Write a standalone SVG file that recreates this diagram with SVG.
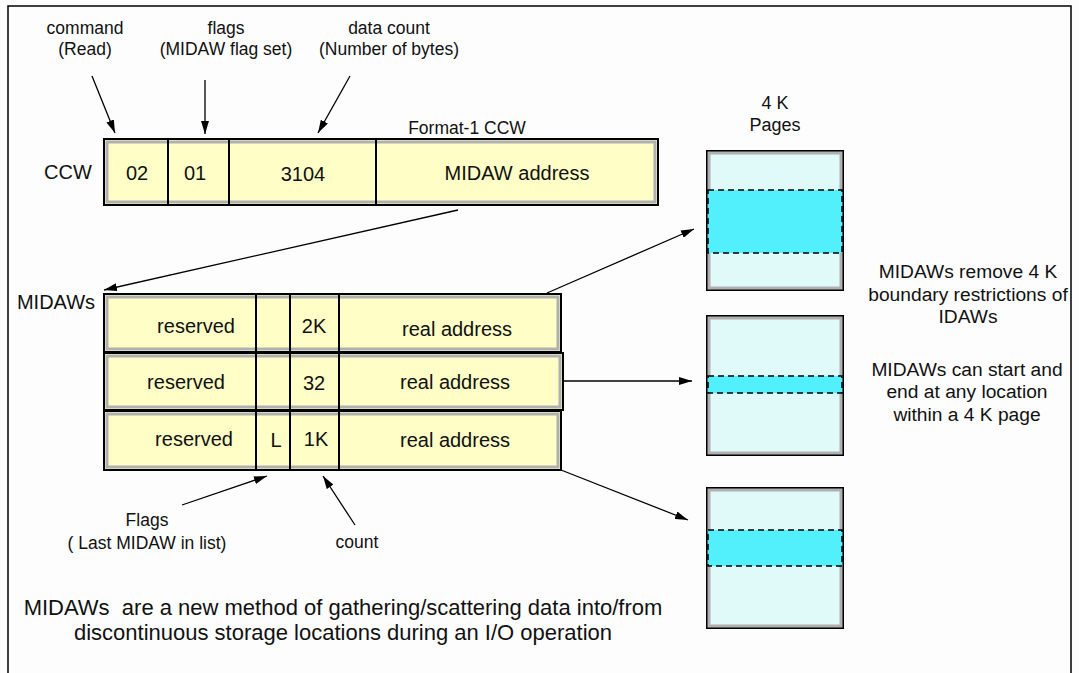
<svg xmlns="http://www.w3.org/2000/svg" width="1079" height="673" viewBox="0 0 1079 673">
<defs>
<marker id="ah" viewBox="0 0 13 8" refX="13" refY="4" markerWidth="13" markerHeight="8" orient="auto" markerUnits="userSpaceOnUse">
<path d="M0,0 L13,4 L0,8 Z" fill="#000"/>
</marker>
</defs>
<style>
text{font-family:"Liberation Sans",Arial,sans-serif;fill:#111;text-anchor:middle}
.lbl{font-size:17.5px}
.big{font-size:20px}
.fld{font-size:20px}
.note{font-size:19.2px}
.pg{font-size:18px}
.foot{font-size:22px;white-space:pre}
.outer{fill:#fefec6;stroke:#000;stroke-width:2}
.inner{fill:none;stroke:#b0b0b0;stroke-width:3}
.div{stroke:#000;stroke-width:2}
.page{fill:#e0fafa;stroke:#000;stroke-width:2}
.band{fill:#52f0fc;stroke:#000;stroke-width:1.5;stroke-dasharray:6,4}
.conn{stroke:#000;stroke-width:1.3;fill:none;marker-end:url(#ah)}
</style>
<rect width="1079" height="673" fill="#fdfdfd"/>
<path d="M8,673 V6 H1071 V673" fill="none" stroke="#000" stroke-width="1.5"/>

<g id="labels-top">
<text class="lbl" x="85" y="34">command</text>
<text class="lbl" x="85" y="55">(Read)</text>
<text class="lbl" x="226" y="34">flags</text>
<text class="lbl" x="226" y="55">(MIDAW flag set)</text>
<text class="lbl" x="389" y="34">data count</text>
<text class="lbl" x="389" y="55">(Number of bytes)</text>
</g>

<g id="ccw">
<text class="big" x="68" y="179">CCW</text>
<text class="lbl" x="467" y="134">Format-1 CCW</text>
<rect class="outer" x="104" y="139" width="554" height="66"/>
<rect class="inner" x="107" y="142" width="548" height="60"/>
<line class="div" x1="168" y1="139" x2="168" y2="205"/>
<line class="div" x1="229" y1="139" x2="229" y2="205"/>
<line class="div" x1="376" y1="139" x2="376" y2="205"/>
<text class="fld" x="137" y="180">02</text>
<text class="fld" x="195" y="180">01</text>
<text class="fld" x="303" y="181">3104</text>
<text class="fld" x="517" y="180">MIDAW address</text>
</g>

<g id="midaws">
<text class="big" x="56" y="309">MIDAWs</text>
<rect class="outer" x="104" y="294" width="457" height="58"/>
<rect class="inner" x="107" y="297" width="451" height="52"/>
<rect class="outer" x="104" y="353" width="459" height="57"/>
<rect class="inner" x="107" y="356" width="453" height="51"/>
<rect class="outer" x="104" y="411" width="457" height="59"/>
<rect class="inner" x="107" y="414" width="451" height="53"/>
<line class="div" x1="256" y1="294" x2="256" y2="470"/>
<line class="div" x1="290" y1="294" x2="290" y2="470"/>
<line class="div" x1="339" y1="294" x2="339" y2="470"/>
<text class="fld" x="196" y="333">reserved</text>
<text class="fld" x="314" y="333">2K</text>
<text class="fld" x="457" y="336">real address</text>
<text class="fld" x="186" y="389">reserved</text>
<text class="fld" x="314" y="390">32</text>
<text class="fld" x="455" y="389">real address</text>
<text class="fld" x="194" y="446">reserved</text>
<text class="fld" x="276" y="447">L</text>
<text class="fld" x="316" y="446">1K</text>
<text class="fld" x="455" y="447">real address</text>
</g>

<g id="pages">
<text class="pg" x="775" y="109">4 K</text>
<text class="pg" x="775" y="131">Pages</text>
<g id="page1">
<rect class="page" x="707" y="151" width="136" height="139"/>
<rect x="709" y="153" width="132" height="135" fill="none" stroke="#b0b0b0" stroke-width="3"/>
<rect class="band" x="708" y="190" width="134" height="63"/>
</g>
<g id="page2">
<rect class="page" x="707" y="316" width="136" height="139"/>
<rect x="709" y="318" width="132" height="135" fill="none" stroke="#b0b0b0" stroke-width="3"/>
<rect class="band" x="708" y="376" width="134" height="17"/>
</g>
<g id="page3">
<rect class="page" x="707" y="488" width="136" height="140"/>
<rect x="709" y="490" width="132" height="136" fill="none" stroke="#b0b0b0" stroke-width="3"/>
<rect class="band" x="708" y="530" width="134" height="36"/>
</g>
</g>

<g id="notes">
<text class="note" x="968" y="278">MIDAWs remove 4 K</text>
<text class="note" x="968" y="301">boundary restrictions of</text>
<text class="note" x="968" y="323">IDAWs</text>
<text class="note" x="967" y="376">MIDAWs can start and</text>
<text class="note" x="967" y="398">end at any location</text>
<text class="note" x="967" y="421">within a 4 K page</text>
<text class="lbl" x="147" y="526">Flags</text>
<text class="lbl" x="147" y="549">( Last MIDAW in list)</text>
<text class="lbl" x="357" y="548">count</text>
<text class="foot" x="343" y="615">MIDAWs  are a new method of gathering/scattering data into/from</text>
<text class="foot" x="343" y="640">discontinuous storage locations during an I/O operation</text>
</g>

<g id="connectors">
<line class="conn" x1="92" y1="76" x2="115" y2="133"/>
<line class="conn" x1="205" y1="80" x2="205" y2="134"/>
<line class="conn" x1="350" y1="76" x2="318" y2="133"/>
<line class="conn" x1="458" y1="210" x2="104" y2="290"/>
<line class="conn" x1="547" y1="293" x2="694" y2="229"/>
<line class="conn" x1="563" y1="381" x2="692" y2="381"/>
<line class="conn" x1="561" y1="470" x2="688" y2="520"/>
<line class="conn" x1="182" y1="505" x2="267" y2="476"/>
<line class="conn" x1="355" y1="525" x2="323" y2="476"/>
</g>
</svg>
